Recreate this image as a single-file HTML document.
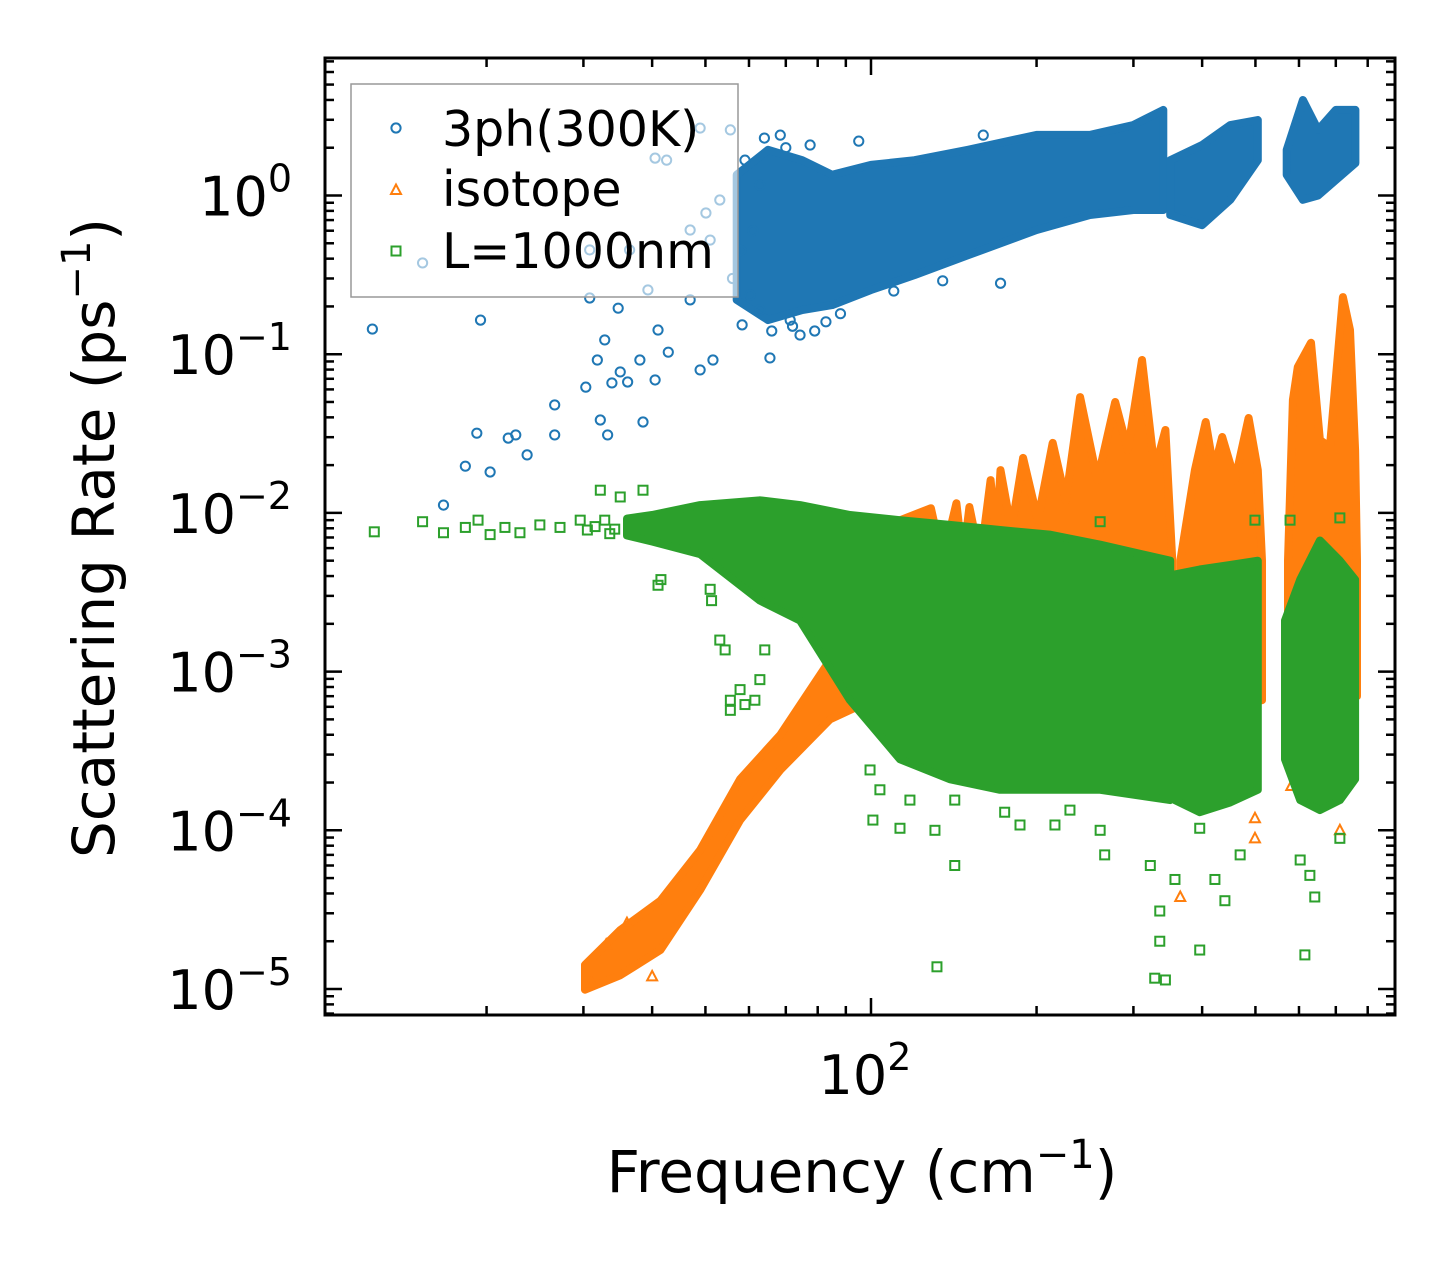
<!DOCTYPE html>
<html><head><meta charset="utf-8"><style>
html,body{margin:0;padding:0;background:#fff;}
svg{display:block;font-family:"DejaVu Sans","Liberation Sans",sans-serif;}
</style></head><body>
<svg id="chart" width="1455" height="1265" viewBox="0 0 1455 1265">
<rect x="0" y="0" width="1455" height="1265" fill="#fff"/>
<g id="plot"></g>
<g id="axes"></g>
</svg>
<script>
// ---- data ----
const blueBandF = [[57,65,75,85,100,120,150,200,250,300,340],[350,400,450,505],[570,610,650,700,760]];
const blueBandHi = [[1.35,1.94,1.67,1.35,1.56,1.67,1.94,2.41,2.41,2.78,3.46],[1.67,2.08,2.78,2.99],[1.94,4.0,2.59,3.46,3.46]];
const blueBandLo = [[0.22,0.164,0.19,0.204,0.254,0.315,0.42,0.606,0.754,0.81,0.81],[0.754,0.65,0.94,1.67],[1.35,0.94,1.0,1.25,1.6]];
const blueF = [12.4,16.7,18.3,19.2,19.5,20.3,21.9,22.6,23.7,26.6,26.6,30.3,30.8,31.8,32.2,33.2,33.8,35.0,36.1,38.0,38.5,39.3,40.5,41.0,42.8,46.9,48.9,51.6,30.8,34.7,32.8,15.3,40.5,42.5,48.9,50.1,36.4,53.1,55.5,51.0,46.9,58.3,65.5,62.8,71.3,60.3,82.8,74.3,59,68.4,77.5,62.8,56,58,61,66,72,79,88,95,64,70,110,135,160,172];
const blueV = [0.144,0.0112,0.0197,0.0318,0.164,0.0181,0.0296,0.031,0.0232,0.0479,0.031,0.062,0.226,0.0919,0.0385,0.031,0.0659,0.0773,0.0668,0.0919,0.0374,0.254,0.0688,0.142,0.103,0.22,0.0796,0.0919,0.454,0.195,0.123,0.376,1.72,1.67,2.66,0.776,0.454,0.937,2.59,0.524,0.606,0.153,0.0947,0.19,0.164,0.236,0.16,0.132,1.67,2.4,2.08,1.16,0.3,0.45,0.6,0.14,0.15,0.14,0.18,2.2,2.3,2.0,0.25,0.29,2.4,0.28];

const orangeBandF = [[30.2,35,41.4,48.9,57.8,68.4,84.2,100,113,128.5,135,143,147,151,158,165,169,172,180,189,201,214,226,240,258,278,293,311,328,343,353],[365,388,406,420,435,459,486,505,514],[573,585,597,631,655,683,721,743,759,765]];
const orangeBandHi = [[1.42e-5,2.35e-5,3.6e-5,7.5e-5,2.1e-4,4.0e-4,1.18e-3,5.0e-3,9.0e-3,0.0107,0.005,0.0115,0.005,0.0109,0.005,0.0161,0.0067,0.0186,0.0078,0.0222,0.009,0.0276,0.012,0.0537,0.0161,0.05,0.0249,0.0919,0.0186,0.0333,0.005],[0.005,0.0186,0.0374,0.0186,0.0301,0.0161,0.0396,0.0186,0.005],[0.005,0.0515,0.083,0.118,0.0288,0.026,0.229,0.142,0.0249,0.005]];
const orangeBandLo = [[9.9e-6,1.22e-5,1.76e-5,4.2e-5,1.16e-4,2.4e-4,5.0e-4,6.6e-4,6.6e-4,6.6e-4,6.6e-4,6.6e-4,6.6e-4,6.6e-4,6.6e-4,6.6e-4,6.6e-4,6.6e-4,6.6e-4,6.6e-4,6.6e-4,6.6e-4,6.6e-4,6.6e-4,6.6e-4,6.6e-4,6.6e-4,6.6e-4,6.6e-4,6.6e-4,6.6e-4],[6.6e-4,6.6e-4,6.6e-4,6.6e-4,6.6e-4,6.6e-4,6.6e-4,6.6e-4,6.6e-4],[7e-4,7e-4,7e-4,7e-4,7e-4,7e-4,7e-4,7e-4,7e-4,7e-4]];
const orangeF = [365,499,499,581,712,31,33,36,40];
const orangeV = [3.8e-5,1.19e-4,8.9e-5,1.9e-4,1.0e-4,1.1e-5,1.9e-5,2.6e-5,1.2e-5];

const greenBandF = [[36,40,48.9,62.8,74.3,91.6,112.9,139,171.6,211,261,350],[357,396,450,505],[566,603,655,712,759]];
const greenBandHi = [[0.0092,0.0097,0.0112,0.012,0.0112,0.0097,0.009,0.0084,0.0078,0.0073,0.0063,0.005],[0.0041,0.0044,0.0047,0.005],[0.0021,0.0038,0.0067,0.005,0.0038]];
const greenBandLo = [[0.0072,0.0066,0.0055,0.0028,0.0021,0.00066,0.00028,0.00021,0.00018,0.00018,0.00018,0.000155],[0.000155,0.00013,0.00015,0.00018],[0.00028,0.000155,0.000134,0.000155,0.00021]];
const greenF = [12.5,15.3,16.7,18.3,19.3,20.3,21.6,23.0,25.0,27.2,29.6,32.2,32.8,35,38.5,41,41.5,51,51.3,53.1,54.3,55.5,55.5,57.8,59,61.5,62.8,64.1,99.6,100.8,103.8,112.9,117.7,128,130.7,131.8,142,142,175,186.6,216,230,261,266,322,335,335,328,343,357,396,422,440,469,603,615,628,641,396,712,261,499,578,712,30.5,31.5,33.5,34.2];
const greenV = [0.0076,0.0088,0.0075,0.0081,0.009,0.0073,0.0081,0.0075,0.0084,0.0081,0.009,0.0139,0.009,0.0126,0.0139,0.0035,0.0038,0.0033,0.0028,0.00158,0.00137,0.00066,0.00057,0.00077,0.00062,0.00066,0.00089,0.00137,0.00024,0.000116,0.00018,0.000103,0.000155,0.00037,0.0001,1.38e-5,0.000155,6.0e-5,0.00013,0.000108,0.000108,0.000134,0.0001,7.0e-5,6.0e-5,3.1e-5,2.0e-5,1.17e-5,1.14e-5,4.9e-5,1.76e-5,4.9e-5,3.6e-5,7.0e-5,6.5e-5,1.64e-5,5.2e-5,3.8e-5,1.03e-4,8.9e-5,0.0088,0.009,0.009,0.0093,0.0078,0.0082,0.0074,0.0079];

const yMajorExp = [0,-1,-2,-3,-4,-5];
const yMajorLabels = ["0","\u22121","\u22122","\u22123","\u22124","\u22125"];
const xMajorVals = [100];
const xMajorLabels = ["2"];

// ---- axes ----
const X0=325, X1=1395, Y0=58, Y1=1015;
function xs(f){ return 871 + 550*(Math.log10(f)-2); }
function ys(v){ return 195.5 - 158.7*Math.log10(v); }
const NS="http://www.w3.org/2000/svg";
function mk(tag, attrs, parent){ const e=document.createElementNS(NS,tag); for(const k in attrs) e.setAttribute(k,attrs[k]); parent.appendChild(e); return e; }
const plot=document.getElementById('plot'), axes=document.getElementById('axes');
const C={b:'#1f77b4',o:'#ff7f0e',g:'#2ca02c'};

const cp=mk('clipPath',{id:'clip'},plot);
mk('rect',{x:X0,y:Y0,width:X1-X0,height:Y1-Y0},cp);
const clipG=mk('g',{'clip-path':'url(#clip)'},plot);

function band(F,Hi,Lo,col,name){
  for(let s=0;s<F.length;s++){
    let pts=[];
    for(let i=0;i<F[s].length;i++) pts.push(xs(F[s][i]).toFixed(1)+','+ys(Hi[s][i]).toFixed(1));
    for(let i=F[s].length-1;i>=0;i--) pts.push(xs(F[s][i]).toFixed(1)+','+ys(Lo[s][i]).toFixed(1));
    const p=mk('polygon',{points:pts.join(' '),fill:col,stroke:col,'stroke-width':8,'stroke-linejoin':'round'},clipG);
    
    
  }
}
function marker(type,f,v,col,name){
  const x=xs(f), y=ys(v); let e;
  if(type==='c') e=mk('circle',{cx:x,cy:y,r:4.6,fill:'none',stroke:col,'stroke-width':2},clipG);
  else if(type==='t') e=mk('polygon',{points:`${x},${y-5.5} ${x-5},${y+4} ${x+5},${y+4}`,fill:'none',stroke:col,'stroke-width':2},clipG);
  else e=mk('rect',{x:x-4.5,y:y-4.5,width:9,height:9,fill:'none',stroke:col,'stroke-width':2},clipG);
  
  
}
band(blueBandF,blueBandHi,blueBandLo,C.b,'3ph');
blueF.forEach((f,i)=>marker('c',f,blueV[i],C.b,'3ph'));
band(orangeBandF,orangeBandHi,orangeBandLo,C.o,'isotope');
orangeF.forEach((f,i)=>marker('t',f,orangeV[i],C.o,'isotope'));
band(greenBandF,greenBandHi,greenBandLo,C.g,'boundary');
greenF.forEach((f,i)=>marker('s',f,greenV[i],C.g,'boundary'));

function line(x1,y1,x2,y2,w,name){ const l=mk('line',{x1:x1,y1:y1,x2:x2,y2:y2,stroke:'#000','stroke-width':w},axes);
  
   }
for(let d=-6; d<=1; d++){
  for(let m=1;m<=9;m++){
    const v=m*Math.pow(10,d), y=ys(v);
    if(y<Y0+1||y>Y1-1) continue;
    const L = m===1?17:9;
    line(X0,y,X0+L,y,2.5,'y-tick'); line(X1,y,X1-L,y,2.5,'y-tick-right');
  }
}
for(let d=1; d<=2; d++){
  for(let m=1;m<=9;m++){
    const f=m*Math.pow(10,d), x=xs(f);
    if(x<X0+1||x>X1-1) continue;
    const L = (m===1)?17:9;
    line(x,Y1,x,Y1-L,2.5,'x-tick'); line(x,Y0,x,Y0+L,2.5,'x-tick-top');
  }
}
const fr=mk('rect',{x:X0,y:Y0,width:X1-X0,height:Y1-Y0,fill:'none',stroke:'#000','stroke-width':3},axes);



yMajorExp.forEach((e,i)=>{
  const t=mk('text',{x:292,y:ys(Math.pow(10,e))+20,'text-anchor':'end','font-size':54,fill:'#000'},axes);
  
  
  t.innerHTML='10<tspan font-size="38" dy="-24">'+yMajorLabels[i]+'</tspan>';
});
xMajorVals.forEach((v,i)=>{
  const t=mk('text',{x:xs(v)-6,y:1094,'text-anchor':'middle','font-size':54,fill:'#000'},axes);
  
  
  t.innerHTML='10<tspan font-size="38" dy="-24">'+xMajorLabels[i]+'</tspan>';
});
</script>
<svg style="position:absolute;left:0;top:0;font-family:'DejaVu Sans','Liberation Sans',sans-serif" width="1455" height="1265">
<g>
<rect x="351" y="84" width="387" height="213" fill="#fff" fill-opacity="0.6" stroke="#999" stroke-width="1.5"/>
<circle cx="396" cy="128" r="4.6" fill="none" stroke="#1f77b4" stroke-width="2"/>
<text x="442" y="146" font-size="49">3ph(300K)</text>
<polygon points="396,184.5 391,194 401,194" fill="none" stroke="#ff7f0e" stroke-width="2"/>
<text x="442" y="206" font-size="49">isotope</text>
<rect x="391.5" y="246.5" width="9" height="9" fill="none" stroke="#2ca02c" stroke-width="2"/>
<text x="442" y="268" font-size="49">L=1000nm</text>
</g>
<text x="862" y="1192" text-anchor="middle" font-size="58">Frequency (cm<tspan font-size="40" dy="-24">−1</tspan><tspan dy="24">)</tspan></text>
<text transform="translate(114,538) rotate(-90)" text-anchor="middle" font-size="58">Scattering Rate (ps<tspan font-size="40" dy="-24">−1</tspan><tspan dy="24">)</tspan></text>
</svg>
</body></html>
